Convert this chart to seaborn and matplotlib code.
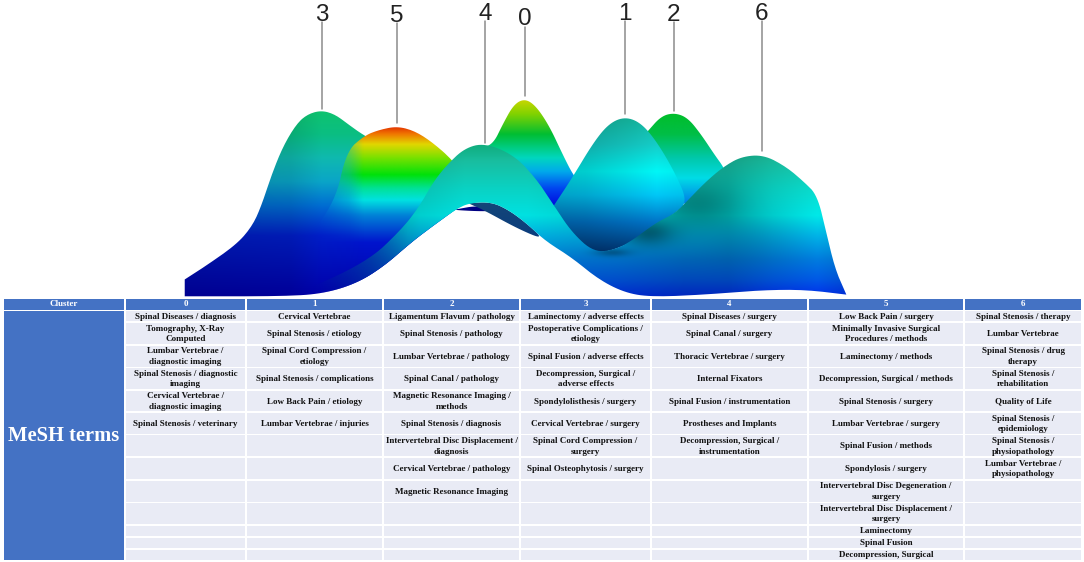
import numpy as np
import pandas as pd
import matplotlib
matplotlib.use("Agg")
import matplotlib.pyplot as plt
from matplotlib.path import Path
from matplotlib.patches import Rectangle
import seaborn as sns

# ---------- table content ----------
headers = ["Cluster", "0", "1", "2", "3", "4", "5", "6"]
side_label = "MeSH terms"
col0 = ["Spinal Diseases / diagnosis", "Tomography, X-Ray\nComputed", "Lumbar Vertebrae /\ndiagnostic imaging",
        "Spinal Stenosis / diagnostic\nimaging", "Cervical Vertebrae /\ndiagnostic imaging", "Spinal Stenosis / veterinary"]
col1 = ["Cervical Vertebrae", "Spinal Stenosis / etiology", "Spinal Cord Compression /\netiology",
        "Spinal Stenosis / complications", "Low Back Pain / etiology", "Lumbar Vertebrae / injuries"]
col2 = ["Ligamentum Flavum / pathology", "Spinal Stenosis / pathology", "Lumbar Vertebrae / pathology",
        "Spinal Canal / pathology", "Magnetic Resonance Imaging /\nmethods", "Spinal Stenosis / diagnosis",
        "Intervertebral Disc Displacement /\ndiagnosis", "Cervical Vertebrae / pathology", "Magnetic Resonance Imaging"]
col3 = ["Laminectomy / adverse effects", "Postoperative Complications /\netiology", "Spinal Fusion / adverse effects",
        "Decompression, Surgical /\nadverse effects", "Spondylolisthesis / surgery", "Cervical Vertebrae / surgery",
        "Spinal Cord Compression /\nsurgery", "Spinal Osteophytosis / surgery"]
col4 = ["Spinal Diseases / surgery", "Spinal Canal / surgery", "Thoracic Vertebrae / surgery", "Internal Fixators",
        "Spinal Fusion / instrumentation", "Prostheses and Implants", "Decompression, Surgical /\ninstrumentation"]
col5 = ["Low Back Pain / surgery", "Minimally Invasive Surgical\nProcedures / methods", "Laminectomy / methods",
        "Decompression, Surgical / methods", "Spinal Stenosis / surgery", "Lumbar Vertebrae / surgery",
        "Spinal Fusion / methods", "Spondylosis / surgery", "Intervertebral Disc Degeneration /\nsurgery",
        "Intervertebral Disc Displacement /\nsurgery", "Laminectomy", "Spinal Fusion", "Decompression, Surgical"]
col6 = ["Spinal Stenosis / therapy", "Lumbar Vertebrae", "Spinal Stenosis / drug\ntherapy",
        "Spinal Stenosis /\nrehabilitation", "Quality of Life", "Spinal Stenosis /\nepidemiology",
        "Spinal Stenosis /\nphysiopathology", "Lumbar Vertebrae /\nphysiopathology"]
columns = [col0, col1, col2, col3, col4, col5, col6]

col_left = [4, 126, 247, 384, 521, 652, 809, 965]
col_right = [124, 245, 382, 519, 650, 807, 963, 1081]
row_top = [311, 323, 345.7, 368.3, 390.7, 413, 435.3, 458, 480.7, 503.3, 525.7, 537.7, 549.7]
row_bot = [321.3, 344, 366.7, 389, 411.3, 433.7, 456.3, 479, 501.7, 524, 536, 548, 559.5]
head_top, head_bot = 299.3, 309.7

# ---------- peak labels ----------
peak_names = ["3", "5", "4", "0", "1", "2", "6"]
peak_x = [322, 397, 485, 525, 625, 674, 762]
line_top = [22, 23, 21, 27, 21, 22, 21]
line_bot = [109, 123, 143, 96, 114, 111, 151]
label_y = [12, 13, 11, 16, 11, 12, 11]

# ---------- surface silhouettes, read in crop units of the terrain ----------
low_edge = [(270, 880), (350, 870), (420, 840), (480, 790), (540, 720), (590, 670), (640, 622)]

hill3 = [(33, 880), (33, 880), (33, 830), (33, 830), (80, 790), (150, 725), (185, 670), (205, 610), (230, 510),
         (255, 430), (285, 365), (310, 338), (340, 328), (370, 340), (400, 370), (435, 403), (500, 450),
         (640, 622)] + low_edge[::-1] + [(33, 880)]
hill5 = [(300, 880), (300, 720), (370, 600), (395, 450), (435, 403), (470, 385), (510, 375), (550, 390), (590, 425),
         (635, 478), (680, 560), (640, 622)] + low_edge[::-1] + [(300, 880)]
hill0 = [(720, 600), (700, 440), (725, 425), (745, 370), (770, 310), (795, 293), (820, 315), (850, 375), (880, 460),
         (905, 525), (950, 600), (860, 620), (720, 600)]
hill2 = [(1050, 420), (1070, 390), (1100, 345), (1130, 335), (1160, 350), (1190, 400), (1220, 460), (1242, 500),
         (1260, 560), (1160, 640), (1100, 500), (1050, 420)]
under_navy = [(640, 622), (690, 610), (740, 625), (700, 628), (640, 624), (640, 622)]
under_teal = [(670, 603), (720, 600), (760, 625), (800, 665), (838, 712), (780, 680), (700, 622), (670, 605), (670, 603)]
hill1 = [(860, 610), (900, 530), (950, 420), (985, 365), (1020, 347), (1055, 365), (1090, 420), (1130, 510),
         (1160, 600), (1130, 635), (1040, 720), (950, 760), (880, 700), (860, 610)]
front = [(270, 880), (350, 870), (420, 840), (480, 790), (540, 720), (590, 670), (640, 622), (670, 603), (720, 600),
         (760, 625), (800, 665), (840, 715), (900, 765), (960, 830), (1020, 870), (1080, 882), (1200, 875),
         (1320, 862), (1420, 860), (1515, 875), (1515, 875), (1490, 800), (1470, 690), (1450, 580), (1420, 540),
         (1380, 495), (1330, 460), (1280, 465), (1240, 495), (1200, 540), (1160, 595), (1130, 635), (1090, 660),
         (1040, 710), (1000, 740), (950, 750), (900, 690), (860, 610), (820, 530), (770, 460), (705, 425), (660, 440),
         (620, 490), (590, 540), (560, 610), (520, 680), (440, 780), (270, 880)]

# colour by height: (crop y, r, g, b)
c3 = [(328, 15, 195, 110), (400, 10, 190, 130), (470, 15, 185, 175), (540, 10, 165, 200), (610, 0, 110, 210),
      (700, 0, 30, 200), (880, 0, 0, 170)]
c5 = [(375, 225, 40, 0), (400, 240, 120, 0), (430, 225, 215, 0), (470, 120, 225, 0), (520, 0, 225, 10),
      (560, 0, 225, 150), (595, 0, 225, 225), (640, 0, 130, 215), (720, 0, 20, 205), (880, 0, 0, 170)]
c0 = [(293, 210, 215, 0), (340, 130, 210, 0), (400, 0, 190, 50), (470, 0, 215, 190), (510, 0, 170, 235),
      (560, 0, 70, 240), (620, 0, 0, 220)]
c2 = [(335, 0, 190, 40), (400, 0, 190, 70), (470, 0, 200, 170), (530, 0, 220, 230), (600, 0, 130, 230)]
c_navy = [(600, 0, 0, 130), (640, 0, 0, 130)]
c_teal = [(600, 20, 70, 120), (710, 10, 60, 125)]
c1 = [(347, 20, 175, 150), (430, 20, 195, 190), (510, 0, 235, 235), (580, 0, 190, 235), (660, 0, 110, 190),
      (750, 0, 50, 110)]
cf = [(425, 15, 170, 120), (480, 25, 190, 160), (560, 10, 210, 195), (640, 0, 225, 225), (700, 0, 175, 225),
      (770, 0, 120, 215), (830, 0, 85, 220), (885, 0, 40, 225)]

# brightness across the width: (crop x, factor)
b3 = [(30, .85), (270, .9), (340, 1.0), (1600, 1.0)]
b1 = [(860, .85), (930, .88), (1020, .97), (1090, 1.05), (1160, 1.0)]
bf = [(300, .6), (450, .72), (560, .92), (660, 1.0), (800, 1.0), (900, .95), (1000, .92), (1150, .85), (1250, .85),
      (1350, .97), (1450, 1.05), (1515, .95)]
flat = [(0, 1.0), (1600, 1.0)]
# dark soft shadows on the front sheet: crop x, crop y, x radius, y radius, depth
shadows_front = [(1180, 610, 90, 70, .28), (1070, 690, 60, 40, .42), (990, 750, 40, 12, .3), (1300, 700, 120, 100, .1)]
# fades at left edges of hill 5 and of the front sheet
fade5 = [(330, 0.0), (400, .55), (432, 1.0)]
fadef = [(320, 0.0), (530, 1.0)]
fade_none = [(0, 1.0), (1600, 1.0)]

layers = [(hill3, c3, b3, fade_none, []), (hill5, c5, flat, fade5, []), (hill0, c0, flat, fade_none, []),
          (hill2, c2, flat, fade_none, []), (under_navy, c_navy, flat, fade_none, []),
          (under_teal, c_teal, flat, fade_none, []), (hill1, c1, b1, fade_none, []),
          (front, cf, bf, fadef, shadows_front)]

# ---------- drawing ----------
sns.set_theme(style="white")
BODY = ["Liberation Serif", "DejaVu Serif"]
fig = plt.figure(figsize=(10.84, 5.62), dpi=100)
ax = fig.add_axes([0, 0, 1, 1])

CX, CY = 2.24, 2.97     # crop units per image pixel
X0 = 170


def to_px(pts):
    a = np.asarray(pts, float)
    return np.column_stack([X0 + a[:, 0] / CX, a[:, 1] / CY])


def smooth(p, n=3):
    for _ in range(n):
        q = [p[0]]
        for a, b in zip(p[:-1], p[1:]):
            q += [0.75 * a + 0.25 * b, 0.25 * a + 0.75 * b]
        q.append(p[-1])
        p = np.array(q)
    return p


gx, gy = np.meshgrid(np.arange(0, 1570, 1.0), np.arange(270, 900, 1.0))
extent = (X0, X0 + 1570 / CX, 900 / CY, 270 / CY)
for poly, cstops, bstops, fade, shadows in layers:
    ys = [s[0] for s in cstops]
    rgb = np.dstack([np.interp(gy, ys, [s[i] for s in cstops]) / 255 for i in (1, 2, 3)])
    bri = np.interp(gx, [s[0] for s in bstops], [s[1] for s in bstops])
    for sx, sy, rx, ry, d in shadows:
        bri = bri * (1 - d * np.exp(-((gx - sx) / rx) ** 2 - ((gy - sy) / ry) ** 2))
    alpha = np.interp(gx, [s[0] for s in fade], [s[1] for s in fade])
    img = np.dstack([np.clip(rgb * bri[..., None], 0, 1), alpha])
    im = ax.imshow(img, extent=extent, aspect="auto", interpolation="bilinear", zorder=2)
    im.set_clip_path(Path(smooth(to_px(poly))), transform=ax.transData)

# leader lines and labels
leaders = pd.DataFrame({"x": np.repeat(peak_x, 2),
                        "y": np.column_stack([line_top, line_bot]).ravel(),
                        "cluster": np.repeat(peak_names, 2)})
sns.lineplot(data=leaders, x="x", y="y", units="cluster", estimator=None, sort=False,
             color="#8c8c8c", linewidth=1.1, ax=ax, zorder=3, legend=False)
for name, x, y in zip(peak_names, peak_x, label_y):
    ax.text(x, y + 0.5, name, ha="center", va="center_baseline", fontsize=17.5, color="#222222",
            family=["Liberation Sans Narrow", "Liberation Sans"], zorder=4)

# table
BLUE, PALE = "#4472C4", "#E9EBF5"
for i, (l, r) in enumerate(zip(col_left, col_right)):
    ax.add_patch(Rectangle((l, head_top), r - l, head_bot - head_top, fc=BLUE, ec="none", zorder=1))
    ax.text((l + r) / 2, (head_top + head_bot) / 2, headers[i], ha="center", va="center", color="white",
            fontsize=6.5, fontweight="bold", family=BODY, zorder=4)
ax.add_patch(Rectangle((col_left[0], row_top[0]), col_right[0] - col_left[0], row_bot[-1] - row_top[0],
                       fc=BLUE, ec="none", zorder=1))
ax.text((col_left[0] + col_right[0]) / 2, 436, side_label, ha="center", va="center", color="white",
        fontsize=14.8, fontweight="bold", family=BODY, zorder=4)
for c, terms in enumerate(columns):
    l, r = col_left[c + 1], col_right[c + 1]
    for k, (t, b) in enumerate(zip(row_top, row_bot)):
        ax.add_patch(Rectangle((l, t), r - l, b - t, fc=PALE, ec="none", zorder=1))
        if k < len(terms):
            ax.text((l + r) / 2, (t + b) / 2 + 0.5, terms[k], ha="center", va="center", color="#111111",
                    fontsize=6.5, fontweight="bold", family=BODY, linespacing=1.42, zorder=4)

ax.set_xlim(0, 1084)
ax.set_ylim(562, 0)
ax.set_axis_off()
fig.savefig("out.png", dpi=100, facecolor="white")
